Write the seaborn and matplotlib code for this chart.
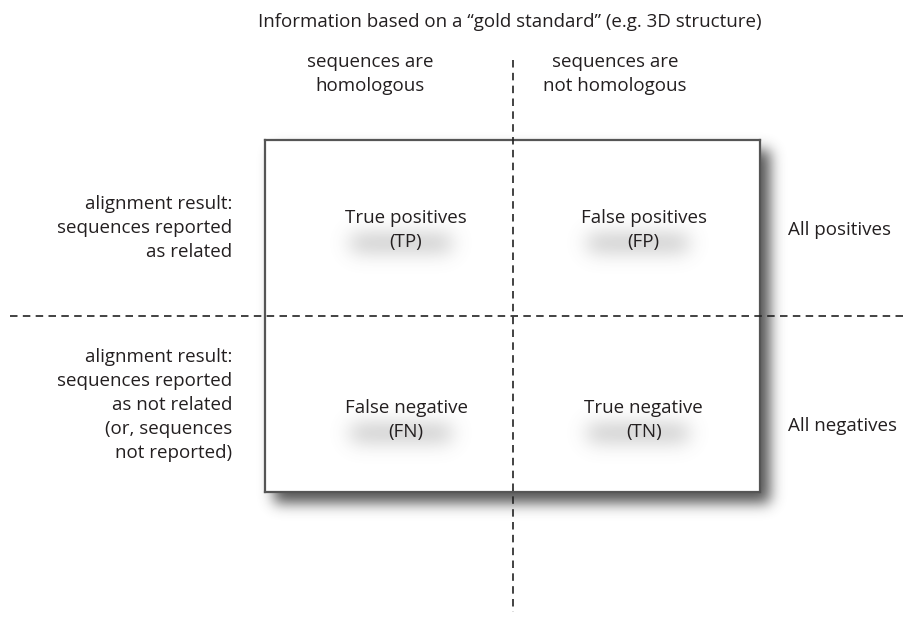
import numpy as np
import matplotlib
matplotlib.use("Agg")
from matplotlib import pyplot as plt
import seaborn as sns

# table content
col_labels = ["sequences are\nhomologous", "sequences are\nnot homologous"]
row_labels = ["alignment result:\nsequences reported\nas related",
              "alignment result:\nsequences reported\nas not related\n(or, sequences\nnot reported)"]
cell_labels = [["True positives\n(TP)", "False positives\n(FP)"],
               ["False negative\n(FN)", "True negative\n(TN)"]]
total_labels = ["All positives", "All negatives"]
title = "Information based on a \u201cgold standard\u201d (e.g. 3D structure)"

W, H = 915, 617
box = (265, 140, 760, 492)  # left, top, right, bottom in pixels
txt_color = "#231f20"

sns.set_style("white")
plt.rcParams['font.family'] = ['Open Sans', 'DejaVu Sans']
plt.rcParams['font.size'] = 13.5
ls = 1.42


def blur(img, sigma):
    r = int(3 * sigma)
    k = np.exp(-0.5 * (np.arange(-r, r + 1) / sigma) ** 2)
    k /= k.sum()
    img = np.apply_along_axis(lambda v: np.convolve(v, k, 'same'), 1, img)
    img = np.apply_along_axis(lambda v: np.convolve(v, k, 'same'), 0, img)
    return img


fig = plt.figure(figsize=(W / 100, H / 100), dpi=100)

# drop shadow of the box
ax_bg = fig.add_axes([0, 0, 1, 1])
ax_bg.set_xlim(0, W)
ax_bg.set_ylim(H, 0)
ax_bg.axis("off")
mask = np.zeros((H, W))
l, t, r, b = box
mask[t + 10:b + 11, l + 9:r + 10] = 1
sh = blur(mask, 7) * 0.9
rgba = np.zeros((H, W, 4))
rgba[..., :3] = 0.25
rgba[..., 3] = sh
ax_bg.imshow(rgba, extent=(0, W, H, 0), interpolation="bilinear")

# the 2x2 grid itself
ax_box = fig.add_axes([l / W, 1 - b / H, (r - l) / W, (b - t) / H])
sns.heatmap(np.zeros((2, 2)), ax=ax_box, cmap=["white"], cbar=False,
            xticklabels=False, yticklabels=False)
for s in ax_box.spines.values():
    s.set_visible(True)
    s.set_color("#555555")
    s.set_linewidth(1.6)

# overlay for lines and text
ax = fig.add_axes([0, 0, 1, 1])
ax.patch.set_alpha(0)
ax.axis("off")

# soft smudges under the cell labels
cx = [l + (r - l) * 0.285, l + (r - l) * 0.765]
cy = [t + (b - t) * 0.255, t + (b - t) * 0.795]
blob = np.zeros((H, W))
for yy in cy:
    for xx in cx:
        blob[int(yy) + 6:int(yy) + 22, int(xx) - 55:int(xx) + 45] = 1
blob = blur(blob, 10) * 0.4
rgba2 = np.zeros((H, W, 4))
rgba2[..., :3] = 0.4
rgba2[..., 3] = blob
ax.imshow(rgba2, extent=(0, W, H, 0), interpolation="bilinear", zorder=0)
ax.set_xlim(0, W)
ax.set_ylim(H, 0)

xm = (l + r) / 2
ym = (t + b) / 2
dash = dict(color="#222222", lw=1.2, dashes=(4.5, 3.2))
ax.plot([xm, xm], [60, 612], **dash)
ax.plot([10, 905], [ym, ym], **dash)

ax.text(510, 22, title, ha="center", va="center", color=txt_color)
for x, lab in zip([370, 615], col_labels):
    ax.text(x, 74, lab, ha="center", va="center", color=txt_color, linespacing=ls)
for y, lab in zip([228, 405], row_labels):
    ax.text(232, y, lab, ha="right", va="center", color=txt_color, linespacing=ls)
for i, y in enumerate(cy):
    for j, x in enumerate(cx):
        ax.text(x, y, cell_labels[i][j], ha="center", va="center",
                color=txt_color, linespacing=ls, zorder=3)
for y, lab in zip([230, 426], total_labels):
    ax.text(788, y, lab, ha="left", va="center", color=txt_color)

fig.savefig("out.png", dpi=100)
